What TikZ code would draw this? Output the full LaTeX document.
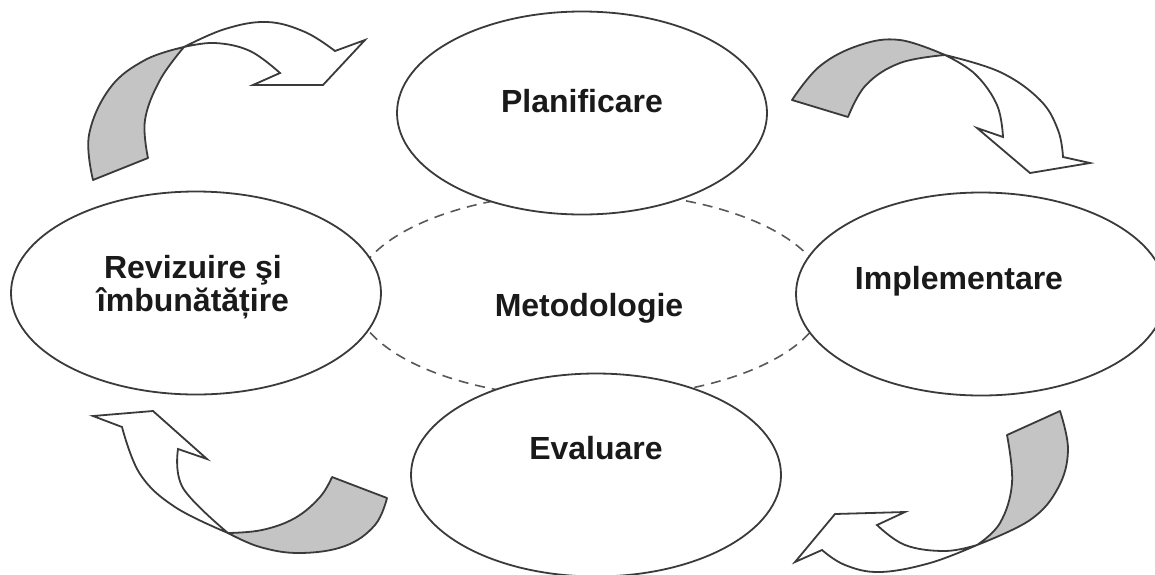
\documentclass[tikz,border=0pt]{standalone}
\usepackage{fontspec}
\setmainfont{Liberation Sans}
\usetikzlibrary{shapes.geometric}
\definecolor{edge}{HTML}{3A3A3A}
\definecolor{backgray}{HTML}{C4C4C4}
\definecolor{ink}{HTML}{1A1A1A}
\begin{document}
\begin{tikzpicture}[x=1pt,y=-1pt,
  stageell/.style={ellipse, draw=edge, line width=1.8pt, fill=white,
    minimum width=370pt, minimum height=203pt, inner sep=0pt},
  methell/.style={ellipse, draw=edge!85, line width=1.6pt, dashed,
    dash pattern=on 10pt off 7pt, minimum width=472pt, minimum height=206pt, inner sep=0pt},
  lbl/.style={font=\fontsize{32}{33}\selectfont\bfseries, text=ink, align=center, inner sep=0pt},
  backpart/.style={fill=backgray, draw=edge, line width=1.8pt, line join=round},
  frontpart/.style={fill=white, draw=edge, line width=1.8pt, line join=miter},
  curve/.style={smooth, tension=0.65}]
\useasboundingbox (0,0) rectangle (1155,574);

% central dashed ellipse
\node[methell] (meth) at (590,295) {};

% arrow top-left
\path[backpart] plot[curve] coordinates {(93,180) (89,135) (110,88) (145,60) (184,47)}
  -- plot[curve] coordinates {(184,47) (160,80) (145,120) (148,158)} -- cycle;
\path[frontpart] plot[curve] coordinates {(184,47) (225,29) (267,22) (305,32) (335,51)}
  -- (365,40) -- (323,85) -- (253,85) -- (280,73)
  -- plot[curve] coordinates {(280,73) (250,51) (215,43) (184,47)} -- cycle;

% arrow top-right
\path[backpart] plot[curve] coordinates {(792,100) (820,66) (860,45) (900,40) (945,55)}
  -- plot[curve] coordinates {(945,55) (900,63) (866,85) (848,117)} -- cycle;
\path[frontpart] plot[curve] coordinates {(945,55) (1000,72) (1040,100) (1058,130) (1063,157)}
  -- (1090,163) -- (1030,173) -- (977,128) -- (1003,137)
  -- plot[curve] coordinates {(1003,137) (997,105) (975,74) (945,55)} -- cycle;

% arrow bottom-left
\path[backpart] plot[curve] coordinates {(387,498) (375,525) (345,546) (300,553) (260,547) (228,533)}
  -- plot[curve] coordinates {(228,533) (262,530) (295,518) (320,497) (332,477)} -- cycle;
\path[frontpart] plot[curve] coordinates {(228,533) (175,507) (140,474) (122,427)}
  -- (93,416) -- (153,411) -- (207,459) -- (178,449)
  -- plot[curve] coordinates {(178,449) (183,488) (228,533)} -- cycle;

% arrow bottom-right
\path[backpart] plot[curve] coordinates {(1060,411) (1068,450) (1058,488) (1030,520) (977,545)}
  -- plot[curve] coordinates {(977,545) (1000,523) (1012,483) (1007,435)} -- cycle;
\path[frontpart] plot[curve] coordinates {(977,545) (930,563) (880,572) (845,565) (822,550)}
  -- (795,562) -- (835,514) -- (905,512) -- (877,525)
  -- plot[curve] coordinates {(877,525) (905,545) (945,551) (977,545)} -- cycle;

% stage ellipses
\node[stageell] (plan) at (582,113) {};
\node[stageell] (rev) at (196,293) {};
\node[stageell] (impl) at (981,294) {};
\node[stageell] (eval) at (596,475) {};

% labels
\node[lbl] (tplan) at (582,101) {Planificare};
\node[lbl] (trev) at (193,287) {Revizuire şi\\îmbunătățire};
\node[lbl] (timpl) at (959,281) {Implementare};
\node[lbl] (tmeth) at (589,308) {Metodologie};
\node[lbl] (teval) at (596,448) {Evaluare};
\end{tikzpicture}
\end{document}
